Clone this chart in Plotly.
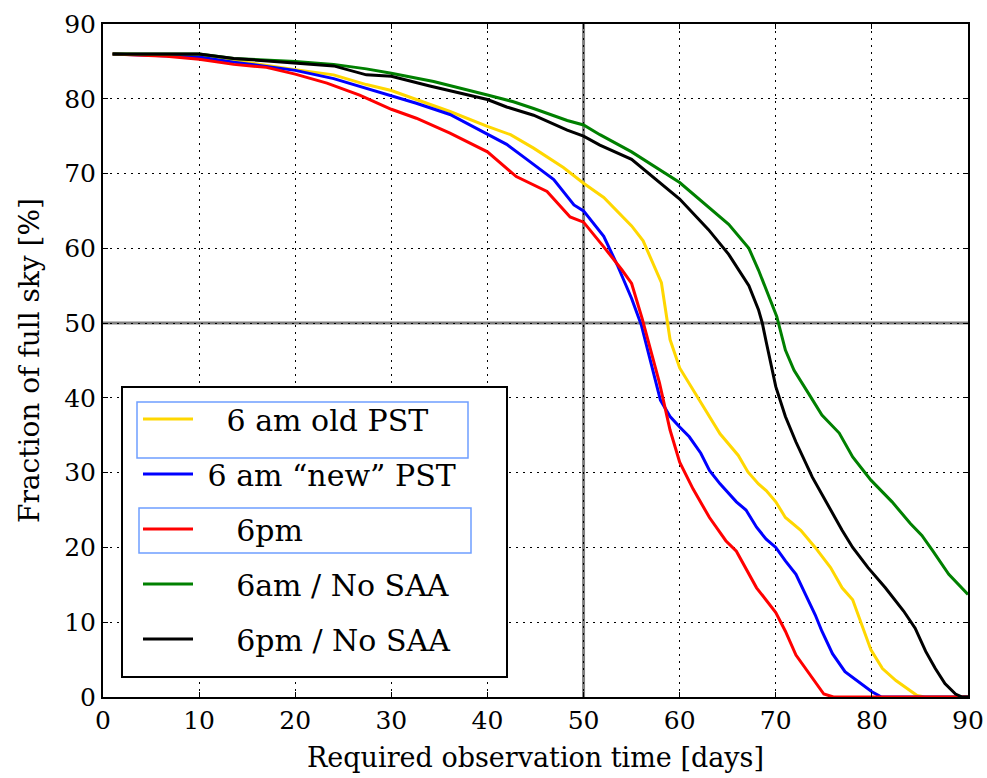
import plotly.graph_objects as go

# ---- data ----
yellow_x = [1, 10, 20, 24, 27.4, 30, 32.6, 36.1, 40, 42.4, 44.8, 47.9, 50, 52.1, 55, 56.2, 58.1, 58.8, 59, 60, 62.2, 64.2, 66.1, 67.1, 68.2, 69, 70, 71, 72.6, 74.1, 75.7, 76.9, 78, 78.8, 79.9, 81.1, 82.5, 84.7, 85.5, 90]
yellow_y = [86, 85.8, 83.9, 83.2, 81.9, 81.1, 79.9, 78.3, 76.3, 75.2, 73.4, 70.8, 68.7, 66.8, 63.0, 61.0, 55.4, 49.6, 47.8, 44, 39.3, 35.2, 32.3, 30.1, 28.5, 27.6, 26.1, 24, 22.3, 20, 17.3, 14.6, 13, 10.1, 6.3, 3.8, 2.2, 0.2, 0, 0]

blue_x = [1, 10, 13.6, 17, 20, 24, 27.4, 30, 32.6, 36.1, 40, 42, 44.1, 46.9, 49, 50, 52.1, 53.5, 55, 56, 58, 59, 60, 61, 62.2, 63.1, 64.2, 65.9, 66.9, 68, 69, 70, 71, 72.1, 73.1, 74.1, 74.8, 75.9, 77.2, 78.6, 80, 81, 90]
blue_y = [86, 85.6, 84.9, 84.3, 83.8, 82.7, 81.4, 80.4, 79.4, 77.9, 75.2, 73.9, 71.9, 69.2, 65.8, 65.0, 61.6, 57.8, 53.3, 49.8, 39.7, 37.5, 36.1, 34.8, 32.6, 30.3, 28.5, 26.1, 25, 22.7, 21.1, 20, 18.2, 16.4, 13.7, 11, 8.8, 5.8, 3.4, 2, 0.7, 0, 0]

red_x = [1, 6.6, 10, 13.6, 17, 20, 23.3, 26.7, 30, 32.6, 36.1, 40, 43, 46.2, 48.6, 50, 52.1, 54, 55, 56.1, 57.9, 59, 60, 61.4, 63.1, 64.8, 65.9, 68, 70, 71, 72.1, 73.8, 75, 76, 90]
red_y = [86, 85.7, 85.3, 84.6, 84.2, 83.3, 82.1, 80.5, 78.6, 77.4, 75.4, 72.9, 69.6, 67.6, 64.2, 63.5, 60.2, 57.1, 55.3, 50.6, 42, 35.7, 31.4, 27.8, 24, 20.9, 19.5, 14.6, 11.3, 8.8, 5.6, 2.5, 0.4, 0, 0]

green_x = [1, 10, 13.6, 20, 24, 27.4, 30, 34.4, 40, 42.7, 44.8, 48.3, 50, 51.7, 55, 60, 65.1, 67.2, 68.2, 70.1, 71, 71.9, 73.5, 74.8, 76.6, 78, 79.9, 82.1, 84, 85.2, 86.3, 88, 90]
green_y = [86, 86, 85.4, 85, 84.6, 84, 83.4, 82.3, 80.5, 79.6, 78.7, 77.1, 76.5, 75.2, 72.9, 68.8, 63.2, 60, 57.1, 50.9, 46.4, 43.7, 40.4, 37.7, 35.3, 32.1, 29, 26.1, 23.2, 21.6, 19.6, 16.4, 13.7]

black_x = [1, 10, 13.6, 20, 24, 27.4, 30, 34, 37.8, 40, 42, 44.8, 48.3, 50, 51.7, 55, 60, 63, 65.1, 67.2, 68.2, 68.6, 69, 70, 71, 72.1, 73.8, 75.5, 76.9, 78, 79.6, 81.4, 83.3, 84.5, 85.6, 86.6, 87.6, 88.7, 89.4, 90]
black_y = [86, 86, 85.4, 84.8, 84.4, 83.2, 83, 81.7, 80.5, 79.9, 78.9, 77.8, 75.8, 75, 73.8, 71.9, 66.6, 62.5, 59.2, 55, 51.8, 50, 47.5, 41.5, 37.5, 34.1, 29.4, 25.4, 22.3, 20, 17.3, 14.6, 11.5, 9.2, 6.1, 3.8, 1.8, 0.4, 0, 0]

NB = "\u00a0"
series = [
    (NB * 3 + "6 am old PST", yellow_x, yellow_y, "#FFD700"),
    (NB * 1 + "6 am “new” PST", blue_x, blue_y, "#0000FF"),
    (NB * 4 + "6pm", red_x, red_y, "#FF0000"),
    (NB * 4 + "6am / No SAA", green_x, green_y, "#008000"),
    (NB * 4 + "6pm / No SAA", black_x, black_y, "#000000"),
]

x_ticks = [0, 10, 20, 30, 40, 50, 60, 70, 80, 90]
y_ticks = [0, 10, 20, 30, 40, 50, 60, 70, 80, 90]
ref_x = 50
ref_y = 50

FONT = "DejaVu Serif"

fig = go.Figure()
for i, (name, xs, ys, col) in enumerate(series):
    fig.add_trace(go.Scatter(x=xs, y=ys, mode="lines", name=name, legendgroup=f"g{i}",
                             line=dict(color=col, width=3)))

# thick grey reference lines at 50 days / 50 %
fig.add_shape(type="line", xref="x", yref="paper", x0=ref_x, x1=ref_x, y0=0, y1=1,
              line=dict(color="#808080", width=3), layer="below")
fig.add_shape(type="line", xref="paper", yref="y", x0=0, x1=1, y0=ref_y, y1=ref_y,
              line=dict(color="#808080", width=3), layer="below")

# legend background + light-blue frames around two legend entries (as in the reference)
W, H, L, B = 865.0, 673.0, 103.0, 81.0
def px2paper(px, py):
    return (px - L) / W, (778 - B - py) / H
a0, b0 = px2paper(122, 387)
a1, b1 = px2paper(507, 677)
fig.add_shape(type="rect", xref="paper", yref="paper", x0=a0, y0=b1, x1=a1, y1=b0,
              fillcolor="white", line=dict(color="black", width=2), layer="above")
for (x0, y0, x1, y1) in [(137, 402, 468, 458), (139, 508, 471, 553)]:
    c0, d0 = px2paper(x0, y0)
    c1, d1 = px2paper(x1, y1)
    fig.add_shape(type="rect", xref="paper", yref="paper", x0=c0, y0=d1, x1=c1, y1=d0,
                  line=dict(color="#6f9fff", width=1.5), layer="above")

axis_common = dict(
    range=[0, 90], tickmode="array", automargin=False,
    showgrid=True, gridcolor="black", gridwidth=1, griddash="2px,5px",
    showline=True, linecolor="black", linewidth=2, mirror="ticks",
    ticks="inside", ticklen=5, tickcolor="black", tickwidth=1,
    zeroline=False,
    tickfont=dict(family=FONT, size=25, color="black"),
)

fig.update_xaxes(**axis_common, tickvals=x_ticks, ticktext=[str(v) for v in x_ticks],
                 title=dict(text="Required observation time [days]",
                            font=dict(family=FONT, size=27, color="black"), standoff=14))
fig.update_yaxes(**axis_common, tickvals=y_ticks, ticktext=[str(v) for v in y_ticks],
                 title=dict(text="Fraction of full sky [%]",
                            font=dict(family=FONT, size=28, color="black"), standoff=16))

lx, ly = px2paper(138, 393)
fig.update_layout(
    width=987, height=778,
    margin=dict(l=103, r=19, t=24, b=81, autoexpand=False),
    paper_bgcolor="white", plot_bgcolor="white",
    showlegend=True,
    legend=dict(
        x=lx, y=ly, xanchor="left", yanchor="top",
        bgcolor="rgba(0,0,0,0)", borderwidth=0,
        font=dict(family=FONT, size=30, color="black"),
        itemwidth=50, tracegroupgap=13,
    ),
)

fig.write_html("out.html")
